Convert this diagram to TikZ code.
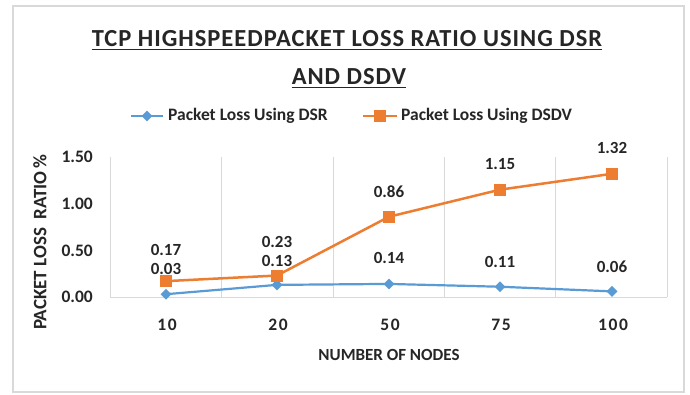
\documentclass[tikz,border=0pt]{standalone}
\usepackage{fontspec}
\setmainfont{Carlito}
\newfontfamily\spaced{Carlito}[LetterSpace=9]
\newfontfamily\ttlfont{Carlito}[LetterSpace=4]
\usetikzlibrary{shapes.geometric}
\definecolor{dsrblue}{HTML}{5B9BD5}
\definecolor{dsdvorange}{HTML}{ED7D31}
\definecolor{framegray}{HTML}{D9D9D9}
\definecolor{gridgray}{HTML}{D9D9D9}
\tikzset{
  lbl/.style={font=\fontsize{17}{17}\selectfont\bfseries, inner sep=0, text=black!85},
  leg/.style={font=\fontsize{17.5}{17.5}\selectfont\bfseries, inner sep=0, text=black!85},
  tick/.style={font=\fontsize{17.5}{17.5}\selectfont\bfseries, inner sep=0, text=black!85},
  xtick/.style={font=\fontsize{17.5}{17.5}\selectfont\spaced\bfseries, inner sep=0, text=black!85},
  ttl/.style={font=\fontsize{24.5}{24.5}\selectfont\ttlfont\bfseries, inner sep=0, text=black!85},
  dsrline/.style={draw=dsrblue, line width=2.2pt},
  dsdvline/.style={draw=dsdvorange, line width=2.5pt},
  dmark/.style={diamond, fill=dsrblue, minimum size=11pt, inner sep=0},
  smark/.style={rectangle, fill=dsdvorange, minimum size=12pt, inner sep=0},
  gridln/.style={draw=gridgray, line width=0.6pt}
}
\begin{document}
\begin{tikzpicture}[x=1pt,y=-1pt]
\useasboundingbox (0,0) rectangle (690,395);
\fill[white] (0,0) rectangle (690,395);
\draw[framegray, line width=1.2pt] (13,6) rectangle (684,392);
% title
\node[ttl, anchor=base] (t1) at (347,47) {TCP HIGHSPEEDPACKET LOSS RATIO USING DSR};
\node[ttl, anchor=base] (t2) at (349,85) {AND DSDV};
\draw[line width=1.6pt, black!85] ([yshift=-2.5pt]t1.base west) -- ([yshift=-2.5pt]t1.base east);
\draw[line width=1.6pt, black!85] ([yshift=-2.5pt]t2.base west) -- ([yshift=-2.5pt]t2.base east);
% legend
\coordinate (la1) at (131,116); \coordinate (la2) at (163,116);
\draw[dsrline] (la1) -- (la2);
\node[dmark] (lm1) at (147,116) {};
\node[leg, anchor=west] (lt1) at (168,116) {Packet Loss Using DSR};
\coordinate (lb1) at (363,116); \coordinate (lb2) at (397,116);
\draw[dsdvline] (lb1) -- (lb2);
\node[smark] (lm2) at (380,116) {};
\node[leg, anchor=west] (lt2) at (401,116) {Packet Loss Using DSDV};
% grid
\foreach \x [count=\i] in {110,221.4,332.8,444.2,555.6,667} {
  \coordinate (gt\i) at (\x,157);
  \coordinate (gb\i) at (\x,297);
  \draw[gridln] (gt\i) -- (gb\i);
}
\draw[gridln] (gb1) -- (gb6);
% y ticks
\foreach \v/\t in {0/0.00,0.5/0.50,1/1.00,1.5/1.50} {
  \node[tick, anchor=east] (yt\t) at (93,{297-\v*93.33}) {\t};
}
% x ticks
\foreach \x/\t in {166/10,277/20,389/50,500/75,612/100} {
  \node[xtick] (xt\t) at (\x+1,325) {\t};
}
\node[lbl] (xtitle) at (389,355) {NUMBER OF NODES};
\node[lbl, rotate=90, font=\fontsize{19}{19}\selectfont\bfseries] (ytitle) at (40,242) {PACKET LOSS\ \ RATIO\,\%};
% data
\foreach \x/\a/\b [count=\i] in {166/0.03/0.17, 277/0.13/0.23, 389/0.14/0.86, 500/0.11/1.15, 612/0.06/1.32} {
  \coordinate (d\i) at (\x,{297-\a*93.33});
  \coordinate (s\i) at (\x,{297-\b*93.33});
}
\draw[dsrline] (d1) -- (d2) -- (d3) -- (d4) -- (d5);
\draw[dsdvline] (s1) -- (s2) -- (s3) -- (s4) -- (s5);
\foreach \i in {1,...,5} {
  \node[dmark] (dm\i) at (d\i) {};
  \node[smark] (sm\i) at (s\i) {};
}
% data labels
\node[lbl] (ls1) at (166,250) {0.17};
\node[lbl] (ld1) at (166,269) {0.03};
\node[lbl] (ls2) at (277,242) {0.23};
\node[lbl] (ld2) at (277,261) {0.13};
\node[lbl] (ld3) at (389,258) {0.14};
\node[lbl] (ld4) at (500,262) {0.11};
\node[lbl] (ld5) at (612,267) {0.06};
\node[lbl] (ls3) at (389,192) {0.86};
\node[lbl] (ls4) at (500,164) {1.15};
\node[lbl] (ls5) at (612,148) {1.32};
\end{tikzpicture}
\end{document}
